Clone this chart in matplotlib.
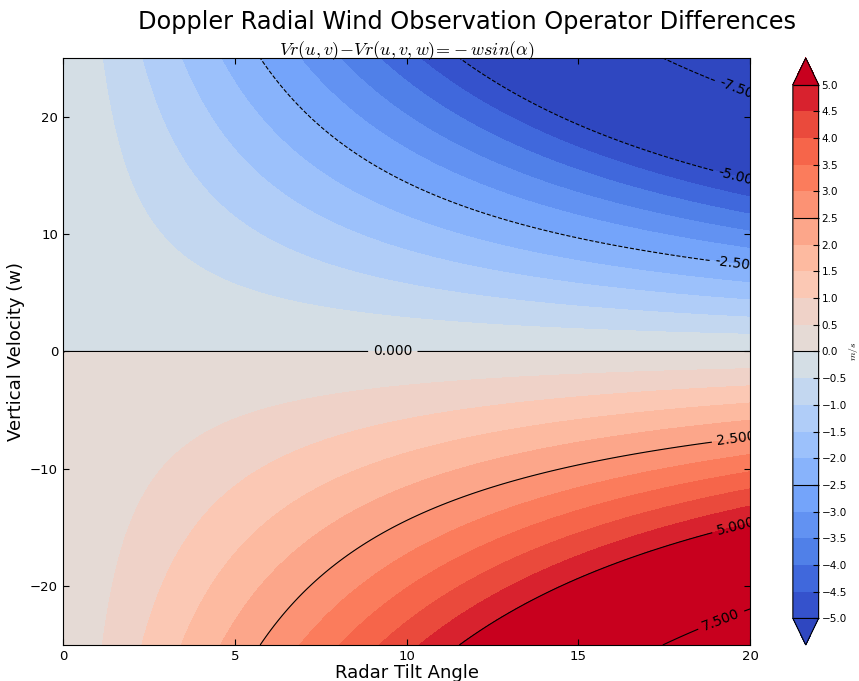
import numpy as np
import matplotlib
matplotlib.use("Agg")
from matplotlib import pyplot as plt
from matplotlib.colors import ListedColormap, BoundaryNorm

plt.rcParams['mathtext.fontset'] = 'cm'

# Grid of radar tilt angles (deg) and vertical velocities (m/s)
tilt_angle = np.linspace(0, 20, 401)
vertical_velocity = np.linspace(-25, 25, 401)

# Filled levels, line levels and colorbar ticks
fill_levels = np.arange(-5.0, 5.01, 0.5)
line_levels = [-7.5, -5.0, -2.5, 0.0, 2.5, 5.0, 7.5]
cbar_ticks = np.arange(-5.0, 5.01, 0.5)
x_ticks = [0, 5, 10, 15, 20]
y_ticks = [-20, -10, 0, 10, 20]

band_colors = ['#3552cc', '#4068dc', '#5080e8', '#6292f2', '#74a4fa',
               '#88b3fb', '#9cc1fb', '#b0cdf8', '#c3d7f0', '#d4dee5',
               '#e5dad5', '#efd2c8', '#fbc8b4', '#fdbaa0', '#fca68a',
               '#fc9274', '#fb7c5c', '#f6654a', '#ea4a3c', '#d8222e']

A, W = np.meshgrid(tilt_angle, vertical_velocity)
diff = -W * np.sin(np.radians(A))

cmap = ListedColormap(band_colors)
cmap.set_under('#2f47c0')
cmap.set_over('#c8001e')
norm = BoundaryNorm(fill_levels, cmap.N)

fig = plt.figure(figsize=(8.59, 6.81), dpi=100)
ax = fig.add_axes([0.0733, 0.0529, 0.80, 0.862])

cf = ax.contourf(A, W, diff, levels=fill_levels, cmap=cmap, norm=norm, extend='both')
cs = ax.contour(A, W, diff, levels=line_levels, colors='k', linewidths=0.8)

# where the inline labels sit, near the right edge like the original
label_spots = [(19.7, 22.2), (19.7, 15.0), (19.6, 7.4), (9.6, 0.0),
               (19.6, -7.5), (19.6, -15.0), (19.2, -23.2)]
labels = ax.clabel(cs, fmt='%1.3f', fontsize=10, manual=label_spots, inline=True)
for t in labels:
    t.set_clip_on(True)

ax.set_xlim(0, 20)
ax.set_ylim(-25, 25)
ax.set_xticks(x_ticks)
ax.set_yticks(y_ticks)
ax.tick_params(direction='in', top=True, right=True, labelsize=9.5, length=4)
ax.set_xlabel('Radar Tilt Angle', fontsize=13, labelpad=1)
ax.set_ylabel('Vertical Velocity (w)', fontsize=13)
ax.set_title(r'$Vr(u,v)\!-\!Vr(u,v,w)\!=\!-w sin(\alpha)$', fontsize=13, pad=2)
fig.text(0.544, 0.968, 'Doppler Radial Wind Observation Operator Differences',
         fontsize=17.3, ha='center', va='center')

cax = fig.add_axes([0.923, 0.0529, 0.030, 0.862])
cb = fig.colorbar(cf, cax=cax, ticks=cbar_ticks)
cb.add_lines(cs)
cb.ax.tick_params(direction='in', labelsize=7.5, length=4, pad=2)
cb.set_label(r'$m/s$', fontsize=7, labelpad=0)

fig.savefig('out.png', dpi=100)
